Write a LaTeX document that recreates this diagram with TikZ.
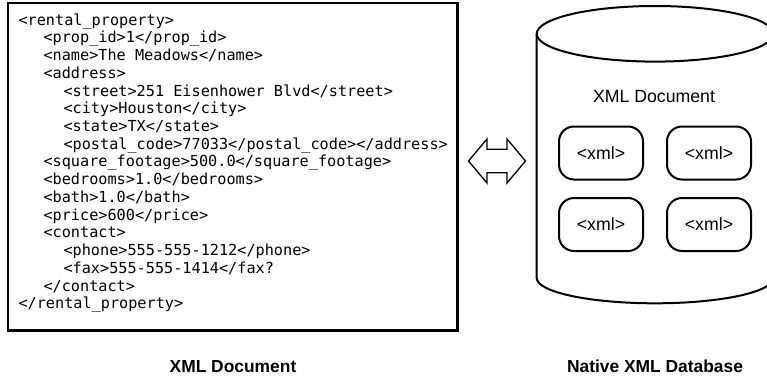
\documentclass[tikz,border=0pt]{standalone}
\usepackage{fontspec}
\setmainfont{Liberation Sans}
\newfontfamily\codefont{DejaVu Sans Mono}
\usetikzlibrary{positioning}

\tikzset{
  code/.style={anchor=base west, inner sep=0pt, font=\codefont\fontsize{15.2}{17.7}\selectfont},
  xmlbox/.style={draw, line width=2pt, rounded corners=15pt, minimum width=84pt, minimum height=53pt, font=\fontsize{17.7}{20}\selectfont},
  caption/.style={anchor=base, font=\bfseries\fontsize{17.4}{20}\selectfont}
}

\begin{document}
\begin{tikzpicture}[x=1pt, y=-1pt]
  \useasboundingbox (0,0) rectangle (767,375);
  % the xml document
  \draw [line width=2.7pt] (8,3) rectangle (457.5,330.5);
  \node [code] (l1) at (18.3,25.2) {<rental\_property>};
  \node [code] (l2) at (43.3,42.9) {<prop\_id>1</prop\_id>};
  \node [code] (l3) at (43.3,60.6) {<name>The Meadows</name>};
  \node [code] (l4) at (43.3,78.4) {<address>};
  \node [code] (l5) at (63.3,96.1) {<street>251 Eisenhower Blvd</street>};
  \node [code] (l6) at (63.3,113.8) {<city>Houston</city>};
  \node [code] (l7) at (63.3,131.5) {<state>TX</state>};
  \node [code] (l8) at (63.3,149.2) {<postal\_code>77033</postal\_code></address>};
  \node [code] (l9) at (43.3,166.9) {<square\_footage>500.0</square\_footage>};
  \node [code] (l10) at (43.3,184.7) {<bedrooms>1.0</bedrooms>};
  \node [code] (l11) at (43.3,202.4) {<bath>1.0</bath>};
  \node [code] (l12) at (43.3,220.1) {<price>600</price>};
  \node [code] (l13) at (43.3,237.8) {<contact>};
  \node [code] (l14) at (63.3,255.6) {<phone>555-555-1212</phone>};
  \node [code] (l15) at (63.3,273.3) {<fax>555-555-1414</fax?};
  \node [code] (l16) at (43.3,291.0) {</contact>};
  \node [code] (l17) at (18.3,308.7) {</rental\_property>};

  % double arrow
  \draw [line width=1.3pt, line join=miter] (468.5,161) -- (487,139) -- (487,149.3)
    -- (507,149.3) -- (507,139) -- (525.5,161) -- (507,183) -- (507,172.7)
    -- (487,172.7) -- (487,183) -- cycle;

  % the database
  \draw [line width=2pt] (655,33.8) ellipse [x radius=118.3, y radius=27.8];
  \draw [line width=2pt] (536.7,33.8) -- (536.7,278)
    arc [start angle=180, end angle=0, x radius=118.3, y radius=25.3] -- (773.3,33.8);
  \node [anchor=base, font=\fontsize{17.7}{20}\selectfont] (dbtitle) at (654,102) {XML Document};
  \node [xmlbox] (xml1) at (601,153) {<xml>};
  \node [xmlbox] (xml2) at (709,153) {<xml>};
  \node [xmlbox] (xml3) at (601,224.5) {<xml>};
  \node [xmlbox] (xml4) at (709,224.5) {<xml>};

  \node [caption] (doclabel) at (233,372) {XML Document};
  \node [caption] (dblabel) at (655,372) {Native XML Database};
\end{tikzpicture}
\end{document}
